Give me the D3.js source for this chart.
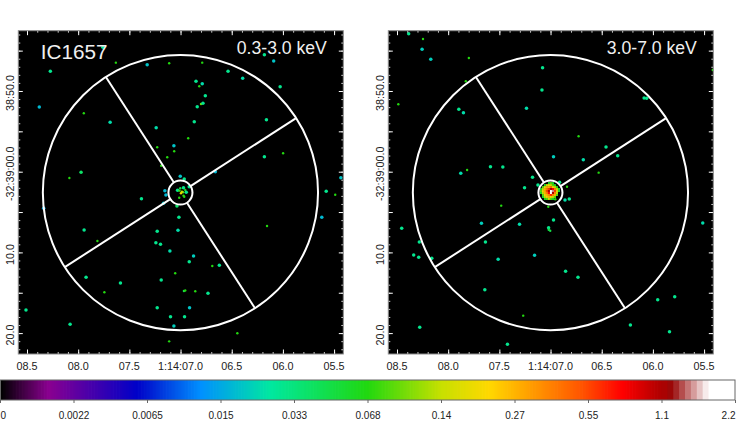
<!DOCTYPE html>
<html>
<head>
<meta charset="utf-8">
<script src="https://cdn.jsdelivr.net/npm/d3@7"></script>
<style>
  body { margin: 0; background: #fff; }
  text { font-family: "Liberation Sans", sans-serif; }
</style>
</head>
<body>
<div id="chart"></div>
<script>
// RA seconds past 1:14, Dec arcsec past -32:39:00, flux per pixel
var softPoints = [
  [7.759,-15.41,.03],[7.632,-13.51,.068],[7.326,-13.26,.02],[7.111,-13.43,.068],[8.272,-12.44,.03],
  [8.380,-8.02,.018],[7.945,-7.24,.068],[7.688,-6.12,.025],[7.238,-5.45,.025],[7.065,-3.22,.02],
  [6.925,-4.14,.068],[7.228,-3.02,.068],[7.062,-2.53,.068],[7.130,-1.78,.068],[7.189,-.74,.068],
  [7.972,.07,.04],[8.086,.78,.068],[7.003,.57,.02],[7.153,2.35,.018],[7.382,3.35,.03],
  [6.181,-14.50,.03],[6.090,-13.72,.02],[6.788,-13.51,.068],[6.536,-12.44,.03],[6.393,-11.57,.025],
  [6.849,-11.20,.03],[6.788,-10.90,.025],[6.817,-10.58,.068],[6.027,-10.53,.03],[6.758,-9.42,.03],
  [6.800,-8.39,.1],[6.781,-8.48,.03],[6.837,-8.05,.03],[6.161,-6.44,.03],[6.866,-6.20,.03],
  [6.181,-1.86,.03],[5.998,-2.28,.068],[6.660,0,.018],[5.434,.74,.02],[5.577,2.43,.03],
  [5.489,2.85,.068],[6.964,.90,.03],[8.337,4.54,.015],[7.166,3.92,.02],[7.035,4.25,.04],
  [7.016,5.65,.03],[7.942,7.22,.03],[7.228,7.39,.03],[7.025,7.26,.025],[7.812,8.59,.068],
  [7.241,8.80,.03],[7.196,9.00,.03],[7.104,9.83,.025],[6.915,11.15,.03],[7.052,12.59,.068],
  [7.923,13.09,.03],[7.189,13.42,.03],[7.587,13.79,.03],[6.967,14.78,.05],[6.954,14.72,.068],
  [7.744,14.94,.068],[7.228,16.85,.03],[6.912,16.85,.02],[8.510,17.14,.03],[7.098,17.97,.03],
  [6.961,17.97,.03],[8.079,18.91,.03],[7.065,19.12,.022],[7.111,21.02,.068],[5.620,5.65,.018],
  [6.155,6.73,.068],[6.873,10.45,.022],[6.690,11.69,.068],[6.621,11.60,.03],[6.856,14.82,.068],
  [6.732,15.07,.03],[6.445,20.02,.068],
  // central source
  [7.029,2.30,.03],[7.003,2.06,.05],[6.971,1.98,.03],[6.954,2.27,.07],[7.010,2.35,.08],
  [6.976,2.55,.1],[6.986,2.48,.14],[6.996,2.68,.2],[6.944,2.55,.03],[6.971,2.97,.08],
  [7.013,3.22,.068],[6.964,3.10,.068],[7.143,2.89,.018],[6.915,1.86,.03]
];

var hardPoints = [
  [8.386,-17.10,.03],[8.246,-16.44,.068],[8.255,-15.17,.022],[8.170,-13.93,.022],[7.798,-14.09,.068],
  [7.078,-12.89,.03],[7.828,-11.20,.068],[7.084,-10.12,.03],[8.487,-8.35,.068],[7.896,-7.73,.03],
  [7.851,-7.31,.025],[7.235,-7.86,.025],[6.971,-1.86,.022],[7.587,-.62,.03],[7.466,-.58,.03],
  [7.815,-.21,.068],[7.877,.20,.025],[7.176,.69,.03],[7.254,1.98,.03],[5.415,-12.60,.068],
  [6.086,-9.13,.03],[6.061,-9.10,.03],[6.726,-4.39,.068],[6.458,-3.06,.03],[6.680,-1.49,.025],
  [6.344,-1.98,.03],[6.530,.12,.068],[6.912,1.31,.03],[6.839,1.86,.068],[6.817,3.38,.03],
  [6.859,3.51,.025],[7.482,4.21,.068],[7.022,4.34,.068],[6.971,5.99,.03],[7.675,6.39,.022],
  [7.303,6.52,.025],[8.454,7.01,.03],[7.019,6.94,.03],[7.018,7.19,.05],[7.003,7.31,.05],
  [7.636,8.71,.03],[8.282,8.71,.03],[8.337,10.32,.03],[8.288,10.61,.03],[8.160,10.73,.03],
  [7.156,10.36,.022],[7.512,10.86,.025],[7.642,14.62,.03],[7.267,17.84,.068],[8.278,19.28,.03],
  [7.421,21.39,.03],[5.513,6.36,.025],[6.853,12.34,.03],[6.732,13.09,.03],[5.787,15.49,.03],
  [5.953,15.86,.03],[6.220,19.0,.03],[5.838,19.83,.03],[7.123,1.65,.03],[6.954,3.42,.068]
];

// flux in image pixels around the hard-band core, north up, east left
var coreRa = 6.996, coreDec = 2.52;
var coreFlux = [
  [0,0,0,0,.06,.09,.06,0,0,0],
  [0,0,.06,.14,.2,.14,.09,.06,0,0],
  [0,.09,.2,.3,.28,.45,.22,.14,.07,0],
  [.06,.14,.27,.42,.6,1.1,.8,.4,.14,.06],
  [.09,.2,.3,.55,1.1,2.2,1.5,.6,.18,.06],
  [.06,.14,.27,.42,.8,2.2,1.1,.4,.14,0],
  [0,.09,.2,.27,.4,.65,.4,.27,.09,0],
  [0,.06,.14,.2,.27,.2,.14,.09,0,0],
  [0,0,.06,.09,.14,.09,.06,0,0,0]
];

// extraction regions, same on both panels
var regionRa = 7.001, regionDec = 2.59;
var innerRadius = 1.49, outerRadius = 17.05;
var spokeAngles = [32.8, 122.8, 212.8, 302.8];

var raTicks = [8.5, 8.0, 7.5, 7.0, 6.5, 6.0, 5.5];
var raLabels = ["08.5", "08.0", "07.5", "1:14:07.0", "06.5", "06.0", "05.5"];
var decTicks = [-10, 0, 10, 20];
var decLabels = ["38:50.0", "-32:39:00.0", "10.0", "20.0"];
var fluxTicks = [0, .0022, .0065, .015, .033, .068, .14, .27, .55, 1.1, 2.2];
var fluxLabels = ["0", "0.0022", "0.0065", "0.015", "0.033", "0.068", "0.14", "0.27", "0.55", "1.1", "2.2"];

// colormap, position in tick intervals
var cmapPos = [0, .65, 1.85, 2.72, 3.67, 4.98, 6, 6.65, 7.9, 8.46, 8.97, 9.1, 9.6, 10];
var cmapCol = ["#000000", "#8a0090", "#0000c8", "#0090ff", "#00e8a0", "#20d810", "#c8e000", "#ffd800",
               "#ff5500", "#ff0000", "#b00000", "#980808", "#ffffff", "#ffffff"];

var svgWidth = 736, svgHeight = 423;
var panelWidth = 325, panelHeight = 323.3;
var panelTop = 30.7;

var svg = d3.select("#chart").append("svg")
  .attr("width", svgWidth)
  .attr("height", svgHeight)
  .style("display", "block");

var xScale = d3.scaleLinear().domain([8.585, 5.41]).range([0, panelWidth]);
var yScale = d3.scaleLinear().domain([-17.47, 22.59]).range([0, panelHeight]);
var fluxPos = d3.scaleLinear().domain(fluxTicks).range(d3.range(11));
var cmap = d3.scaleLinear().domain(cmapPos).range(cmapCol).clamp(true);
var colorOf = function(f) { return cmap(fluxPos(f)); };

svg.append("clipPath").attr("id", "frame")
  .append("rect").attr("width", panelWidth).attr("height", panelHeight);

function styleTicks(g, major) {
  g.select(".domain").remove();
  g.selectAll("line").attr("stroke", "#fff").attr("stroke-width", major ? 1 : .8);
}

function drawPanel(left, points, band, name, core) {
  var panel = svg.append("g").attr("transform", `translate(${left}, ${panelTop})`);

  panel.append("rect")
    .attr("width", panelWidth)
    .attr("height", panelHeight)
    .attr("fill", "#000");

  var image = panel.append("g").attr("clip-path", "url(#frame)");

  if (core) {
    var cw = Math.abs(xScale(0.0196) - xScale(0));
    core.forEach(function(row, j) {
      row.forEach(function(f, i) {
        if (f > 0) {
          image.append("rect")
            .attr("x", xScale(coreRa + (5 - i) * 0.0196) - cw / 2)
            .attr("y", yScale(coreDec + (j - 4.5) * 0.245) - cw / 2)
            .attr("width", cw)
            .attr("height", cw)
            .attr("fill", colorOf(f));
        }
      });
    });
  }

  image.selectAll("circle")
    .data(points)
    .enter()
    .append("circle")
    .attr("cx", d => xScale(d[0]))
    .attr("cy", d => yScale(d[1]))
    .attr("r", d => d[2] >= .05 ? 1.2 : 1.75)
    .attr("fill", d => colorOf(d[2]));

  // regions
  var cx = xScale(regionRa), cy = yScale(regionDec);
  var pxPerArcsec = yScale(1) - yScale(0);
  [innerRadius, outerRadius].forEach(function(r) {
    panel.append("circle")
      .attr("cx", cx).attr("cy", cy)
      .attr("r", r * pxPerArcsec)
      .attr("fill", "none")
      .attr("stroke", "#fff")
      .attr("stroke-width", 2);
  });
  spokeAngles.forEach(function(a) {
    var t = a * Math.PI / 180;
    panel.append("line")
      .attr("x1", cx + innerRadius * pxPerArcsec * Math.cos(t))
      .attr("y1", cy - innerRadius * pxPerArcsec * Math.sin(t))
      .attr("x2", cx + outerRadius * pxPerArcsec * Math.cos(t))
      .attr("y2", cy - outerRadius * pxPerArcsec * Math.sin(t))
      .attr("stroke", "#fff")
      .attr("stroke-width", 2);
  });

  // minor and major ticks on all four sides
  var raMinor = d3.range(54, 86).map(d => d / 10);
  var raMajor = raTicks;
  var decMinor = d3.range(-17, 23);
  var decMajor = d3.range(-15, 21, 5);

  [[raMinor, 2, false], [raMajor, 4.5, true]].forEach(function(s) {
    panel.append("g").call(d3.axisBottom(xScale).tickValues(s[0]).tickSize(s[1]).tickFormat(""))
      .call(styleTicks, s[2]);
    panel.append("g").attr("transform", `translate(0, ${panelHeight})`)
      .call(d3.axisBottom(xScale).tickValues(s[0]).tickSize(-s[1]).tickFormat(""))
      .call(styleTicks, s[2]);
  });
  [[decMinor, 2, false], [decMajor, 4.5, true]].forEach(function(s) {
    panel.append("g").call(d3.axisRight(yScale).tickValues(s[0]).tickSize(s[1]).tickFormat(""))
      .call(styleTicks, s[2]);
    panel.append("g").attr("transform", `translate(${panelWidth}, 0)`)
      .call(d3.axisRight(yScale).tickValues(s[0]).tickSize(-s[1]).tickFormat(""))
      .call(styleTicks, s[2]);
  });

  panel.append("rect")
    .attr("width", panelWidth)
    .attr("height", panelHeight)
    .attr("fill", "none")
    .attr("stroke", "#8c8c8c")
    .attr("stroke-width", 1);

  // tick labels
  panel.selectAll(".raLabel")
    .data(raTicks)
    .enter()
    .append("text")
    .attr("class", "raLabel")
    .attr("x", d => xScale(d))
    .attr("y", panelHeight + 16.5)
    .attr("text-anchor", "middle")
    .attr("font-size", 10.8)
    .attr("fill", "#222")
    .text((d, i) => raLabels[i]);

  panel.selectAll(".decLabel")
    .data(decTicks)
    .enter()
    .append("text")
    .attr("class", "decLabel")
    .attr("transform", d => `translate(-4.5, ${yScale(d) + 2}) rotate(-90)`)
    .attr("text-anchor", "middle")
    .attr("font-size", 10.8)
    .attr("fill", "#222")
    .text((d, i) => decLabels[i]);

  panel.append("text")
    .attr("x", panelWidth - 16.5)
    .attr("y", 23.3)
    .attr("text-anchor", "end")
    .attr("font-size", 17.6)
    .attr("fill", "#f0f0f0")
    .text(band);

  if (name) {
    panel.append("text")
      .attr("x", 22.4)
      .attr("y", 28.6)
      .attr("font-size", 20.7)
      .attr("fill", "#f0f0f0")
      .text(name);
  }
}

drawPanel(18.3, softPoints, "0.3-3.0 keV", "IC1657", null);
drawPanel(388.3, hardPoints, "3.0-7.0 keV", null, coreFlux);

// colour bar
var barTop = 380, barHeight = 20, barWidth = 735;
var barScale = d3.scaleLinear().domain([0, 10]).range([0, barWidth]);
var barCells = d3.range(0, 9, .02).concat(d3.range(9, 10, .08));

var bar = svg.append("g").attr("transform", `translate(0, ${barTop})`);

bar.selectAll("rect")
  .data(barCells)
  .enter()
  .append("rect")
  .attr("x", d => barScale(d))
  .attr("width", d => barScale(d < 9 ? .03 : .09))
  .attr("height", barHeight)
  .attr("fill", d => cmap(d));

bar.append("rect")
  .attr("x", .5)
  .attr("width", barWidth - .5)
  .attr("height", barHeight)
  .attr("fill", "none")
  .attr("stroke", "#666")
  .attr("stroke-width", 1);

var barAxis = d3.axisBottom(barScale)
  .tickValues(d3.range(11))
  .tickSize(3)
  .tickPadding(9)
  .tickFormat((d, i) => fluxLabels[i]);

bar.append("g")
  .attr("transform", `translate(0, ${barHeight})`)
  .call(barAxis)
  .call(function(g) {
    g.select(".domain").remove();
    g.selectAll("line").attr("stroke", "#666");
    g.selectAll("text")
      .attr("font-size", 10)
      .attr("font-family", "Liberation Sans")
      .attr("fill", "#222");
    g.selectAll("text").filter(d => d === 0).attr("text-anchor", "start");
    g.selectAll("text").filter(d => d === 10).attr("text-anchor", "end");
  });
</script>
</body>
</html>
